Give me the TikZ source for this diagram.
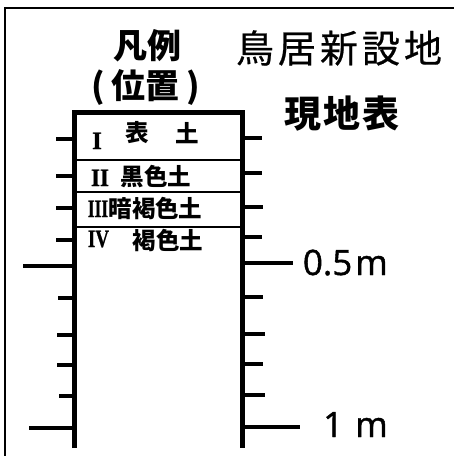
\documentclass[tikz,border=0pt]{standalone}
\usepackage{fontspec}
\newfontfamily\jp{Noto Sans CJK JP}
\newfontfamily\jpm[FakeBold=0.6]{Noto Sans CJK JP}
\newfontfamily\rom[FakeBold=1]{Liberation Serif}
\newfontfamily\lat[FakeBold=1.2]{Open Sans}
\begin{document}
\begin{tikzpicture}[x=1pt,y=-1pt,
  frameline/.style={line width=2pt},
  boxline/.style={line width=5pt, line join=miter},
  tickline/.style={line width=3.2pt},
  divline/.style={line width=1.8pt},
  title/.style={inner sep=0pt, font=\jp\bfseries\fontsize{34}{34}\selectfont},
  layer/.style={inner sep=0pt, font=\jp\bfseries\fontsize{23.5}{23.5}\selectfont},
  roman/.style={inner sep=0pt, anchor=base, font=\rom\bfseries\fontsize{25}{25}\selectfont},
  scalelbl/.style={inner sep=0pt, anchor=base east, font=\lat\fontsize{35}{35}\selectfont}]
\useasboundingbox (0,0) rectangle (454,456);
% outer frame (top and left)
\coordinate (fbl) at (5,456);
\coordinate (ftl) at (5,8);
\coordinate (ftr) at (454,8);
\draw[frameline] (fbl) -- (ftl) -- (ftr);
% column box
\coordinate (tl) at (74,112);
\coordinate (tr) at (242,112);
\coordinate (bl) at (74,448);
\coordinate (br) at (242,448);
\draw[boxline] (bl) -- (tl) -- (tr) -- (br);
% layer dividers
\foreach \y/\n in {160/a,192/b,227/c}{
  \coordinate (dl\n) at (74,\y);
  \coordinate (dr\n) at (242,\y);
  \draw[divline] (dl\n) -- (dr\n);
}
% left ticks
\foreach \y/\x in {139/56,176/56,208/56,240/56,266/23,298/58,335/57,365/57,396/59,428/29}{
  \coordinate (lt) at (74,\y);
  \coordinate (le) at (\x,\y);
  \draw[tickline] (lt) -- (le);
}
% right ticks
\foreach \y/\x in {138/262,173/262,207/263,237/262,263/293,297/263,334/265,364/263,395/265,427/300}{
  \coordinate (rt) at (242,\y);
  \coordinate (re) at (\x,\y);
  \draw[tickline] (rt) -- (re);
}
% titles
\node[title] (legend) at (147,46) {凡例};
\node[title] (pos) at (146,87) {(\hspace{7pt}位置\hspace{7pt})};
\node[inner sep=0pt, font=\jpm\fontsize{38}{38}\selectfont] (site) at (339,48) {鳥\hspace{4pt}居\hspace{4pt}新\hspace{4pt}設\hspace{4pt}地};
\node[inner sep=0pt, font=\jp\bfseries\fontsize{37}{37}\selectfont] (surface) at (342,114) {現\hspace{2pt}地\hspace{2pt}表};
% layers
\node[roman] (r1) at (97,149) {I};
\node[layer] (l1a) at (137,133) {表};
\node[layer] (l1b) at (187,133) {土};
\node[roman] (r2) at (100,186) {\scalebox{0.92}[1]{II}};
\node[roman] (r3) at (98,217) {\scalebox{0.7}[1]{III}};
\node[roman] (r4) at (98.5,247) {\scalebox{0.76}[1]{IV}};
\node[layer] (l2) at (156,176.5) {黒色土};
\node[layer] (l3) at (155.5,209) {暗褐色土};
\node[layer] (l4) at (168,241) {褐色土};
% scale labels
\node[scalelbl] (half) at (388,275) {0.5\hspace{3pt}m};
\node[scalelbl] (one) at (388,437) {1\hspace{12pt}m};
\end{tikzpicture}
\end{document}
